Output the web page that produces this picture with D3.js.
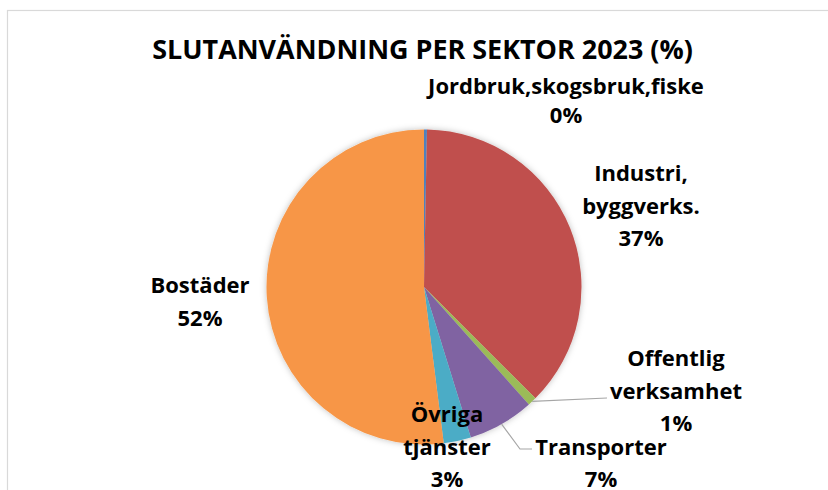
<!DOCTYPE html>
<html>
<head>
<meta charset="utf-8">
<script src="https://cdn.jsdelivr.net/npm/d3@7"></script>
<style>
  body { margin: 0; background: #fff; }
  text { font-family: "Open Sans", Lato, sans-serif; font-weight: bold; fill: #000; }
</style>
</head>
<body>
<div class="chart"></div>
<script>
// data (share of final energy use, %)
const sectors = ['Jordbruk,skogsbruk,fiske', 'Industri, byggverks.', 'Offentlig verksamhet', 'Transporter', 'Övriga tjänster', 'Bostäder'];
const shares = [0.3, 37.2, 0.9, 6.8, 2.8, 52.0];
const colors = ['#4F81BD', '#C0504D', '#9BBB59', '#8064A2', '#4BACC6', '#F79646'];
const labelLines = [['Jordbruk,skogsbruk,fiske'], ['Industri,', 'byggverks.'], ['Offentlig', 'verksamhet'], ['Transporter'], ['Övriga', 'tjänster'], ['Bostäder']];

// label placement (centre x, first baseline y, line step) and leader elbows
const labelPos = [[566, 94, 28.5], [641, 181, 32.5], [676, 366, 32.5], [601, 455, 32], [447, 422, 32.5], [200, 293, 32.5]];
const leaders = {2: [[607, 398]], 3: [[520, 449], [532, 449]]};

const width = 828, height = 490;
const cx = 424, cy = 287, radius = 157.5;

const svg = d3.select('.chart')
    .append('svg')
    .attr('width', width)
    .attr('height', height);

const defs = svg.append('defs');
const shadow = defs.append('filter')
    .attr('id', 'shadow')
    .attr('x', '-20%').attr('y', '-20%')
    .attr('width', '140%').attr('height', '140%');
shadow.append('feDropShadow')
    .attr('dx', 0).attr('dy', 0)
    .attr('stdDeviation', 3)
    .attr('flood-color', '#000')
    .attr('flood-opacity', 0.25);

// chart area border
svg.append('rect')
    .attr('x', 7.5)
    .attr('y', 10.5)
    .attr('width', 900)
    .attr('height', 600)
    .attr('fill', 'none')
    .attr('stroke', '#d9d9d9')
    .attr('stroke-width', 1.2);

// size a font so that a sample string gets the width seen in the picture
function fitSize(str, target) {
    const probe = svg.append('text').attr('font-size', 100).text(str);
    const w = probe.node().getComputedTextLength();
    probe.remove();
    return 100 * target / w;
}
const titleSize = fitSize('SLUTANVÄNDNING PER SEKTOR 2023 (%)', 541);
const labelSize = fitSize('Jordbruk,skogsbruk,fiske', 276);

svg.append('text')
    .text('SLUTANVÄNDNING PER SEKTOR 2023 (%)')
    .attr('x', 422.5)
    .attr('y', 58.5)
    .attr('text-anchor', 'middle')
    .attr('font-size', titleSize);

const data = sectors.map((s, i) => ({sector: s, value: shares[i], i: i}));

const pie = d3.pie()
    .value(d => d.value)
    .sort(null);
const arcs = pie(data);

const arc = d3.arc().innerRadius(0).outerRadius(radius);
const edge = d3.arc().innerRadius(radius).outerRadius(radius);

const group = svg.append('g')
    .attr('transform', `translate(${cx},${cy})`);

group.append('g')
    .attr('filter', 'url(#shadow)')
    .selectAll('path')
    .data(arcs)
    .enter()
    .append('path')
    .attr('d', arc)
    .attr('fill', d => colors[d.data.i]);

// leader lines
arcs.forEach(d => {
    const pts = leaders[d.data.i];
    if (!pts) return;
    const start = edge.centroid(d);
    const line = [[cx + start[0], cy + start[1]]].concat(pts);
    svg.append('path')
        .attr('d', d3.line()(line))
        .attr('fill', 'none')
        .attr('stroke', '#a6a6a6')
        .attr('stroke-width', 1.2);
});

// labels
const fmt = d3.format('.0f');
arcs.forEach(d => {
    const i = d.data.i;
    const lines = labelLines[i].concat([fmt(d.data.value) + '%']);
    const t = svg.append('text')
        .attr('text-anchor', 'middle')
        .attr('font-size', labelSize);
    lines.forEach((l, k) => {
        t.append('tspan')
            .attr('x', labelPos[i][0])
            .attr('y', labelPos[i][1] + k * labelPos[i][2])
            .text(l);
    });
});
</script>
</body>
</html>
